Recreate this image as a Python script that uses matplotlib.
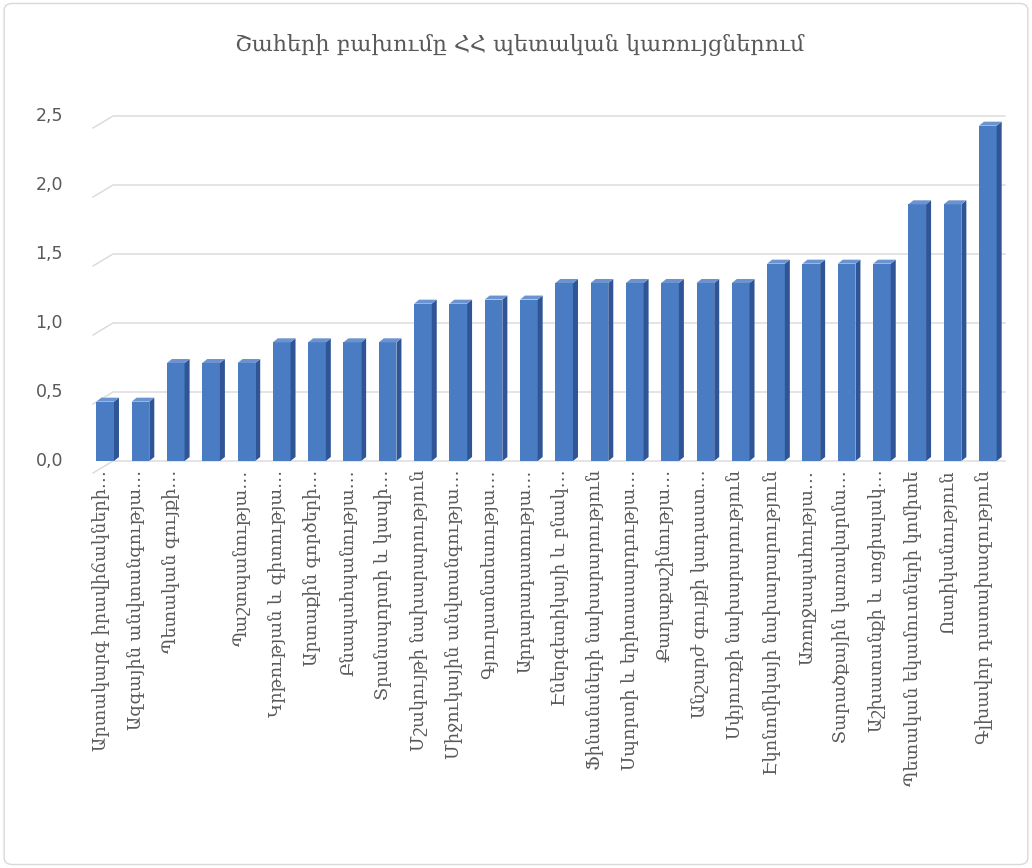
import matplotlib
matplotlib.use("Agg")
import matplotlib.pyplot as plt
from matplotlib.patches import Polygon, FancyBboxPatch

categories = [
    "Արտակարգ իրավիճակների…",
    "Ազգային անվտանգությա…",
    "Պետական գույքի…",
    "",
    "Պաշտպանությա…",
    "Կրթության և գիտությա…",
    "Արտաքին գործերի…",
    "Բնապահպանությա…",
    "Տրանսպորտի և կապի…",
    "Մշակույթի նախարարություն",
    "Միջուկային անվտանգությա…",
    "Գյուղատնտեսությա…",
    "Արդարադատությա…",
    "Էներգետիկայի և բնակ…",
    "Ֆինանսների նախարարություն",
    "Սպորտի և երիտասարդությա…",
    "Քաղաքաշինությա…",
    "Անշարժ գույքի կադաստ…",
    "Սփյուռքի նախարարություն",
    "Էկոնոմիկայի նախարարություն",
    "Առողջապահությա…",
    "Տարածքային կառավարմա…",
    "Աշխատանքի և սոցիալակ…",
    "Պետական եկամուտների կոմիտե",
    "Ոստիկանություն",
    "Գլխավոր դատախազություն",
]
values = [0.43, 0.43, 0.71, 0.71, 0.71, 0.86, 0.86, 0.86, 0.86, 1.14, 1.14,
          1.17, 1.17, 1.29, 1.29, 1.29, 1.29, 1.29, 1.29, 1.43, 1.43, 1.43,
          1.43, 1.86, 1.86, 2.43]
yticks = [0.0, 0.5, 1.0, 1.5, 2.0, 2.5]
ytick_labels = ["0,0", "0,5", "1,0", "1,5", "2,0", "2,5"]
title = "Շահերի բախումը ՀՀ պետական կառույցներում"

W, H = 1032, 868
fig = plt.figure(figsize=(W / 100, H / 100), dpi=100)
fig.patch.set_facecolor("white")
fig.patches.append(FancyBboxPatch((0.004, 0.004), 0.992, 0.992,
                                  boxstyle="round,pad=0,rounding_size=0.008",
                                  transform=fig.transFigure, fill=False,
                                  edgecolor="#d9d9d9", linewidth=1.0))

px_per_unit = 138.0
y0_px = 461
ytop = 2.55
left_px, right_px = 90, 1008
ax = fig.add_axes([left_px / W, 1 - y0_px / H, (right_px - left_px) / W,
                   ytop * px_per_unit / H])
n = len(values)
ax.set_xlim(-0.5, n - 0.5)
ax.set_ylim(0, ytop)
for s in ax.spines.values():
    s.set_visible(False)
ax.set_xticks([])
ax.set_yticks([])

xunit_px = (right_px - left_px) / n
# 3D depth offsets
dx = 5.0 / xunit_px
dy = 4.0 / px_per_unit
# gridlines on back wall with slanted left edge
gx0 = -0.5 + 3.0 / xunit_px
gx1 = gx0 + 20.0 / xunit_px
gdy = 12.0 / px_per_unit
for t in yticks:
    ax.plot([gx0, gx1, n - 0.5 - 3.0 / xunit_px], [t - gdy, t, t],
            color="#d9d9d9", lw=1.0, zorder=0, clip_on=False)

for t, lab in zip(yticks, ytick_labels):
    fig.text(63 / W, 1 - (y0_px - t * px_per_unit) / H, lab, ha="right",
             va="center", fontsize=12.5, color="#595959",
             family=["DejaVu Sans"])

bw = 0.5
front = "#4a7cc3"
side = "#2f5597"
topc = "#6a93d0"
for i, v in enumerate(values):
    ax.bar(i - dx / 2, v, width=bw, color=front, edgecolor="none", zorder=2)
    xr = i - dx / 2 + bw / 2
    xl = i - dx / 2 - bw / 2
    ax.add_patch(Polygon([(xr, 0), (xr + dx, dy), (xr + dx, v + dy), (xr, v)],
                         closed=True, facecolor=side, edgecolor="none", zorder=3))
    ax.add_patch(Polygon([(xl, v), (xl + dx, v + dy), (xr + dx, v + dy), (xr, v)],
                         closed=True, facecolor=topc, edgecolor="none", zorder=3))

for i, lab in enumerate(categories):
    if lab:
        ax.text(i - dx / 2 - 0.12, -9.0 / px_per_unit, lab, rotation=90,
                ha="center", va="top", fontsize=12.8, color="#595959",
                family=["DejaVu Serif", "DejaVu Sans"], clip_on=False)

fig.text(520 / W, 1 - 45 / H, title, ha="center", va="center", fontsize=16,
         color="#595959", family=["DejaVu Serif", "DejaVu Sans"])

fig.savefig("out.png", dpi=100)
